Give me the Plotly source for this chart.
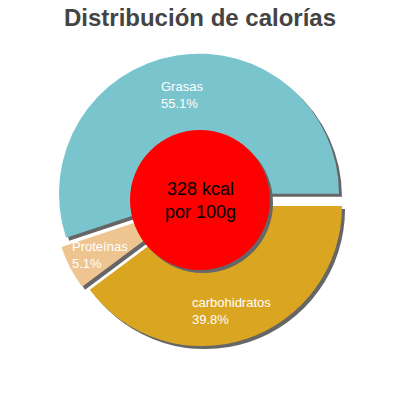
import plotly.graph_objects as go

# Data
labels = ["Grasas", "Proteínas", "carbohidratos"]
values = [55.1, 5.1, 39.8]
colors = ["#7AC5CD", "#EEC591", "#DAA520"]
kcal_text = "328 kcal<br>por 100g"

# label anchor positions (px from top-left)
label_pos = [(159, 77), (70, 237), (190, 293)]

W = H = 400
pull = 0.046
R = 140
half = R * (1 + pull)
cx, cy = 200, 200
sh = 3  # shadow offset in px


def dom(x_off=0, y_off=0):
    x0 = (cx - half + x_off) / W
    x1 = (cx + half + x_off) / W
    y0 = 1 - (cy + half + y_off) / H
    y1 = 1 - (cy - half + y_off) / H
    return dict(x=[x0, x1], y=[y0, y1])


# slices drawn clockwise from 3 o'clock, so feed them in reverse order
rl, rv, rc_ = labels[::-1], values[::-1], colors[::-1]

fig = go.Figure()

# shadow pie
fig.add_trace(go.Pie(
    labels=[l + " " for l in rl], values=rv, sort=False,
    direction="clockwise", rotation=90,
    pull=[pull] * 3, domain=dom(sh, sh),
    marker=dict(colors=["#666666"] * 3, line=dict(width=0)),
    textinfo="none", hoverinfo="skip", showlegend=False,
))

# main pie
fig.add_trace(go.Pie(
    labels=rl, values=rv, sort=False,
    direction="clockwise", rotation=90,
    pull=[pull] * 3, domain=dom(),
    marker=dict(colors=rc_, line=dict(width=0)),
    textinfo="none", hoverinfo="label+percent", showlegend=False,
))

# centre disc with shadow
rc = 70
fig.add_shape(type="circle", xref="paper", yref="paper",
              x0=(cx - rc + sh) / W, x1=(cx + rc + sh) / W,
              y0=1 - (cy + rc + sh) / H, y1=1 - (cy - rc + sh) / H,
              fillcolor="#666666", line=dict(width=0))
fig.add_shape(type="circle", xref="paper", yref="paper",
              x0=(cx - rc) / W, x1=(cx + rc) / W,
              y0=1 - (cy + rc) / H, y1=1 - (cy - rc) / H,
              fillcolor="#FF0000", line=dict(width=0))

fig.add_annotation(x=cx / W, y=1 - cy / H, xref="paper", yref="paper",
                   text=kcal_text, showarrow=False,
                   font=dict(size=18, color="black"))

for lab, val, (px, py) in zip(labels, values, label_pos):
    fig.add_annotation(x=px / W, y=1 - py / H, xref="paper", yref="paper",
                       xanchor="left", yanchor="top", align="left",
                       text=f"{lab}<br>{val:.1f}%", showarrow=False,
                       font=dict(size=13, color="white"))

fig.update_layout(
    width=W, height=H,
    margin=dict(l=0, r=0, t=0, b=0),
    paper_bgcolor="white",
    font=dict(family="Liberation Sans, Arial, sans-serif"),
    title=dict(text="<b>Distribución de calorías</b>", x=0.5, xanchor="center",
               y=1 - 18 / H, yanchor="middle",
               font=dict(size=24, color="#444444")),
)

fig.write_html("out.html", config={"displayModeBar": False},
               post_script="document.body.style.margin='0';")
